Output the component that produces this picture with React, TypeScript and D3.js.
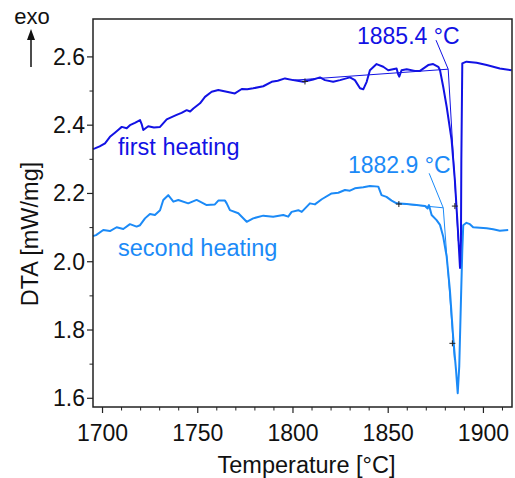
import React from "react";
import * as d3 from "d3";

// ---- data (temperature °C, DTA mW/mg) ----
const firstHeating: [number, number][] = [
  [1695.0, 2.330], [1696.0, 2.332], [1698.5, 2.338], [1701.3, 2.347], [1703.9, 2.366],
  [1706.5, 2.378], [1708.2, 2.386], [1710.1, 2.395], [1712.7, 2.391], [1714.4, 2.400],
  [1717.0, 2.407], [1719.7, 2.415], [1720.5, 2.404], [1721.4, 2.386], [1724.0, 2.397],
  [1727.0, 2.393], [1730.2, 2.395], [1733.7, 2.417], [1736.0, 2.423], [1738.9, 2.430],
  [1741.5, 2.436], [1744.2, 2.444], [1746.0, 2.440], [1747.7, 2.449], [1751.2, 2.464],
  [1753.8, 2.483], [1757.3, 2.498], [1760.8, 2.503], [1765.2, 2.498], [1769.5, 2.493],
  [1773.1, 2.506], [1776.0, 2.505], [1779.1, 2.508], [1784.4, 2.514], [1788.8, 2.527],
  [1792.0, 2.530], [1795.8, 2.537], [1800.1, 2.532], [1805.4, 2.527], [1810.6, 2.534],
  [1814.2, 2.540], [1816.8, 2.532], [1821.1, 2.527], [1824.7, 2.532], [1829.9, 2.540],
  [1832.5, 2.532], [1835.2, 2.508], [1836.9, 2.505], [1838.7, 2.527], [1840.4, 2.561],
  [1843.9, 2.579], [1847.4, 2.571], [1850.0, 2.561], [1854.4, 2.566], [1855.3, 2.548],
  [1855.8, 2.542], [1857.0, 2.561], [1859.7, 2.564], [1864.0, 2.559], [1866.7, 2.559],
  [1871.0, 2.576], [1873.6, 2.579], [1876.3, 2.571], [1877.2, 2.561], [1878.9, 2.512],
  [1880.7, 2.454], [1883.3, 2.356], [1885.0, 2.239], [1886.6, 2.093], [1887.7, 1.982],
  [1888.2, 2.063], [1888.4, 2.298], [1888.9, 2.581], [1891.1, 2.586], [1896.4, 2.583],
  [1901.7, 2.576], [1908.6, 2.566], [1914.8, 2.561],
];

const secondHeating: [number, number][] = [
  [1695.0, 2.075], [1696.6, 2.078], [1700.4, 2.093], [1703.9, 2.090], [1707.4, 2.101],
  [1710.9, 2.096], [1714.4, 2.110], [1717.9, 2.103], [1719.7, 2.107], [1722.3, 2.127],
  [1724.9, 2.140], [1727.5, 2.137], [1730.2, 2.151], [1731.9, 2.181], [1734.5, 2.195],
  [1737.2, 2.176], [1739.8, 2.181], [1745.0, 2.171], [1749.4, 2.181], [1751.2, 2.176],
  [1754.7, 2.166], [1759.0, 2.168], [1760.8, 2.179], [1764.3, 2.179], [1765.2, 2.171],
  [1766.9, 2.151], [1771.3, 2.142], [1773.1, 2.132], [1775.7, 2.117], [1779.1, 2.127],
  [1784.4, 2.135], [1789.6, 2.132], [1794.9, 2.137], [1797.5, 2.132], [1799.3, 2.146],
  [1802.8, 2.151], [1804.6, 2.146], [1808.9, 2.171], [1811.5, 2.168], [1815.1, 2.183],
  [1820.3, 2.200], [1823.8, 2.202], [1827.3, 2.210], [1829.9, 2.208], [1832.5, 2.215],
  [1836.9, 2.218], [1840.4, 2.222], [1844.8, 2.220], [1846.5, 2.195], [1849.1, 2.190],
  [1851.8, 2.179], [1854.4, 2.171], [1859.7, 2.169], [1864.9, 2.166], [1869.3, 2.163],
  [1870.7, 2.156], [1871.4, 2.166], [1872.8, 2.137], [1875.4, 2.122], [1877.2, 2.108],
  [1878.9, 2.073], [1880.7, 2.015], [1882.4, 1.917], [1884.1, 1.780], [1885.6, 1.683],
  [1886.5, 1.615], [1887.3, 1.693], [1888.2, 1.888], [1888.9, 2.034], [1889.4, 2.107],
  [1891.1, 2.114], [1892.9, 2.110], [1894.6, 2.101], [1901.7, 2.098], [1905.1, 2.095],
  [1908.6, 2.091], [1913.0, 2.093],
];

// construction lines: baseline, inflection tangent, label leader
const firstBaseline: [number, number][] = [[1801.0, 2.532], [1881.5, 2.564]];
const firstTangent: [number, number][] = [[1881.5, 2.564], [1886.8, 2.060]];
const firstLeader: [number, number][] = [[1875.1, 2.649], [1881.5, 2.564]];
const secondBaseline: [number, number][] = [[1854.1, 2.171], [1878.9, 2.158]];
const secondTangent: [number, number][] = [[1878.9, 2.158], [1884.8, 1.712]];
const secondLeader: [number, number][] = [[1871.5, 2.259], [1878.9, 2.158]];
const markers: [number, number][] = [[1806.3, 2.528], [1885.0, 2.163], [1855.6, 2.169], [1883.7, 1.761]];

const xTicks = [1700, 1750, 1800, 1850, 1900];
const yTicks = [1.6, 1.8, 2.0, 2.2, 2.4, 2.6];
const onsetLabels = ["1885.4 °C", "1882.9 °C"];
const seriesLabels = ["first heating", "second heating"];

const W = 515, H = 478;
const M = { left: 93, right: 512, top: 19, bottom: 407 };
const DARK = "#1212e4";
const LIGHT = "#1b8af7";
const FONT = "'Liberation Sans', Arial, sans-serif";

export default function App() {
  const x = d3.scaleLinear().domain([1695, 1915]).range([M.left, M.right]);
  const y = d3.scaleLinear().domain([1.5745, 2.711]).range([M.bottom, M.top]);
  const line = d3.line<[number, number]>().x((d) => x(d[0])).y((d) => y(d[1]));

  const xMinor = d3.range(1700, 1915, 10).filter((v) => v % 50 !== 0);
  const yMinor = [1.7, 1.9, 2.1, 2.3, 2.5];

  return (
    <svg width={W} height={H} style={{ position: "absolute", left: 0, top: 0, background: "#fff" }} fontFamily={FONT}>
      <rect x={0} y={0} width={W} height={H} fill="#fff" />
      {/* curves */}
      <path d={line(secondHeating) || ""} fill="none" stroke={LIGHT} strokeWidth={2} strokeLinejoin="round" />
      <path d={line(firstHeating) || ""} fill="none" stroke={DARK} strokeWidth={2} strokeLinejoin="round" />
      {[firstBaseline, firstTangent, firstLeader].map((seg, i) => (
        <path key={"f" + i} d={line(seg) || ""} fill="none" stroke={DARK} strokeWidth={1} />
      ))}
      {[secondBaseline, secondTangent, secondLeader].map((seg, i) => (
        <path key={"s" + i} d={line(seg) || ""} fill="none" stroke={LIGHT} strokeWidth={1} />
      ))}
      {markers.map((m, i) => (
        <g key={"m" + i} stroke="#222" strokeWidth={1}>
          <line x1={x(m[0]) - 3} x2={x(m[0]) + 3} y1={y(m[1])} y2={y(m[1])} />
          <line x1={x(m[0])} x2={x(m[0])} y1={y(m[1]) - 3} y2={y(m[1]) + 3} />
        </g>
      ))}
      {/* frame */}
      <rect x={M.left} y={M.top} width={M.right - M.left} height={M.bottom - M.top} fill="none" stroke="#222" strokeWidth={1.5} />
      {/* x ticks */}
      {xTicks.map((t) => (
        <g key={"xt" + t}>
          <line x1={x(t)} x2={x(t)} y1={M.bottom} y2={M.bottom + 6} stroke="#222" strokeWidth={1.2} />
          <text x={x(t)} y={441} textAnchor="middle" fontSize={23} fill="#111">{t}</text>
        </g>
      ))}
      {xMinor.map((t) => (
        <line key={"xm" + t} x1={x(t)} x2={x(t)} y1={M.bottom} y2={M.bottom + 3.5} stroke="#222" strokeWidth={1} />
      ))}
      {/* y ticks */}
      {yTicks.map((t) => (
        <g key={"yt" + t}>
          <line x1={M.left - 6} x2={M.left} y1={y(t)} y2={y(t)} stroke="#222" strokeWidth={1.2} />
          <text x={85} y={y(t) + 8} textAnchor="end" fontSize={23} fill="#111">{t.toFixed(1)}</text>
        </g>
      ))}
      {yMinor.map((t) => (
        <line key={"ym" + t} x1={M.left - 3.5} x2={M.left} y1={y(t)} y2={y(t)} stroke="#222" strokeWidth={1} />
      ))}
      {/* axis titles */}
      <text x={(M.left + M.right) / 2 + 4} y={473} textAnchor="middle" fontSize={23.5} fill="#111">Temperature [°C]</text>
      <text transform="translate(38,234) rotate(-90)" textAnchor="middle" fontSize={23.5} fill="#111">DTA [mW/mg]</text>
      {/* exo arrow */}
      <text x={32} y={24} textAnchor="middle" fontSize={22} fill="#111">exo</text>
      <line x1={31} x2={31} y1={67} y2={38} stroke="#111" strokeWidth={1.5} />
      <path d="M31,29 L27,40 L35,40 Z" fill="#111" />
      {/* annotations */}
      <text x={357} y={44} fontSize={23} fill={DARK}>{onsetLabels[0]}</text>
      <text x={348} y={173} fontSize={23} fill={LIGHT}>{onsetLabels[1]}</text>
      <text x={118} y={155} fontSize={23.5} fill={DARK}>{seriesLabels[0]}</text>
      <text x={118} y={256} fontSize={23.5} fill={LIGHT}>{seriesLabels[1]}</text>
    </svg>
  );
}
